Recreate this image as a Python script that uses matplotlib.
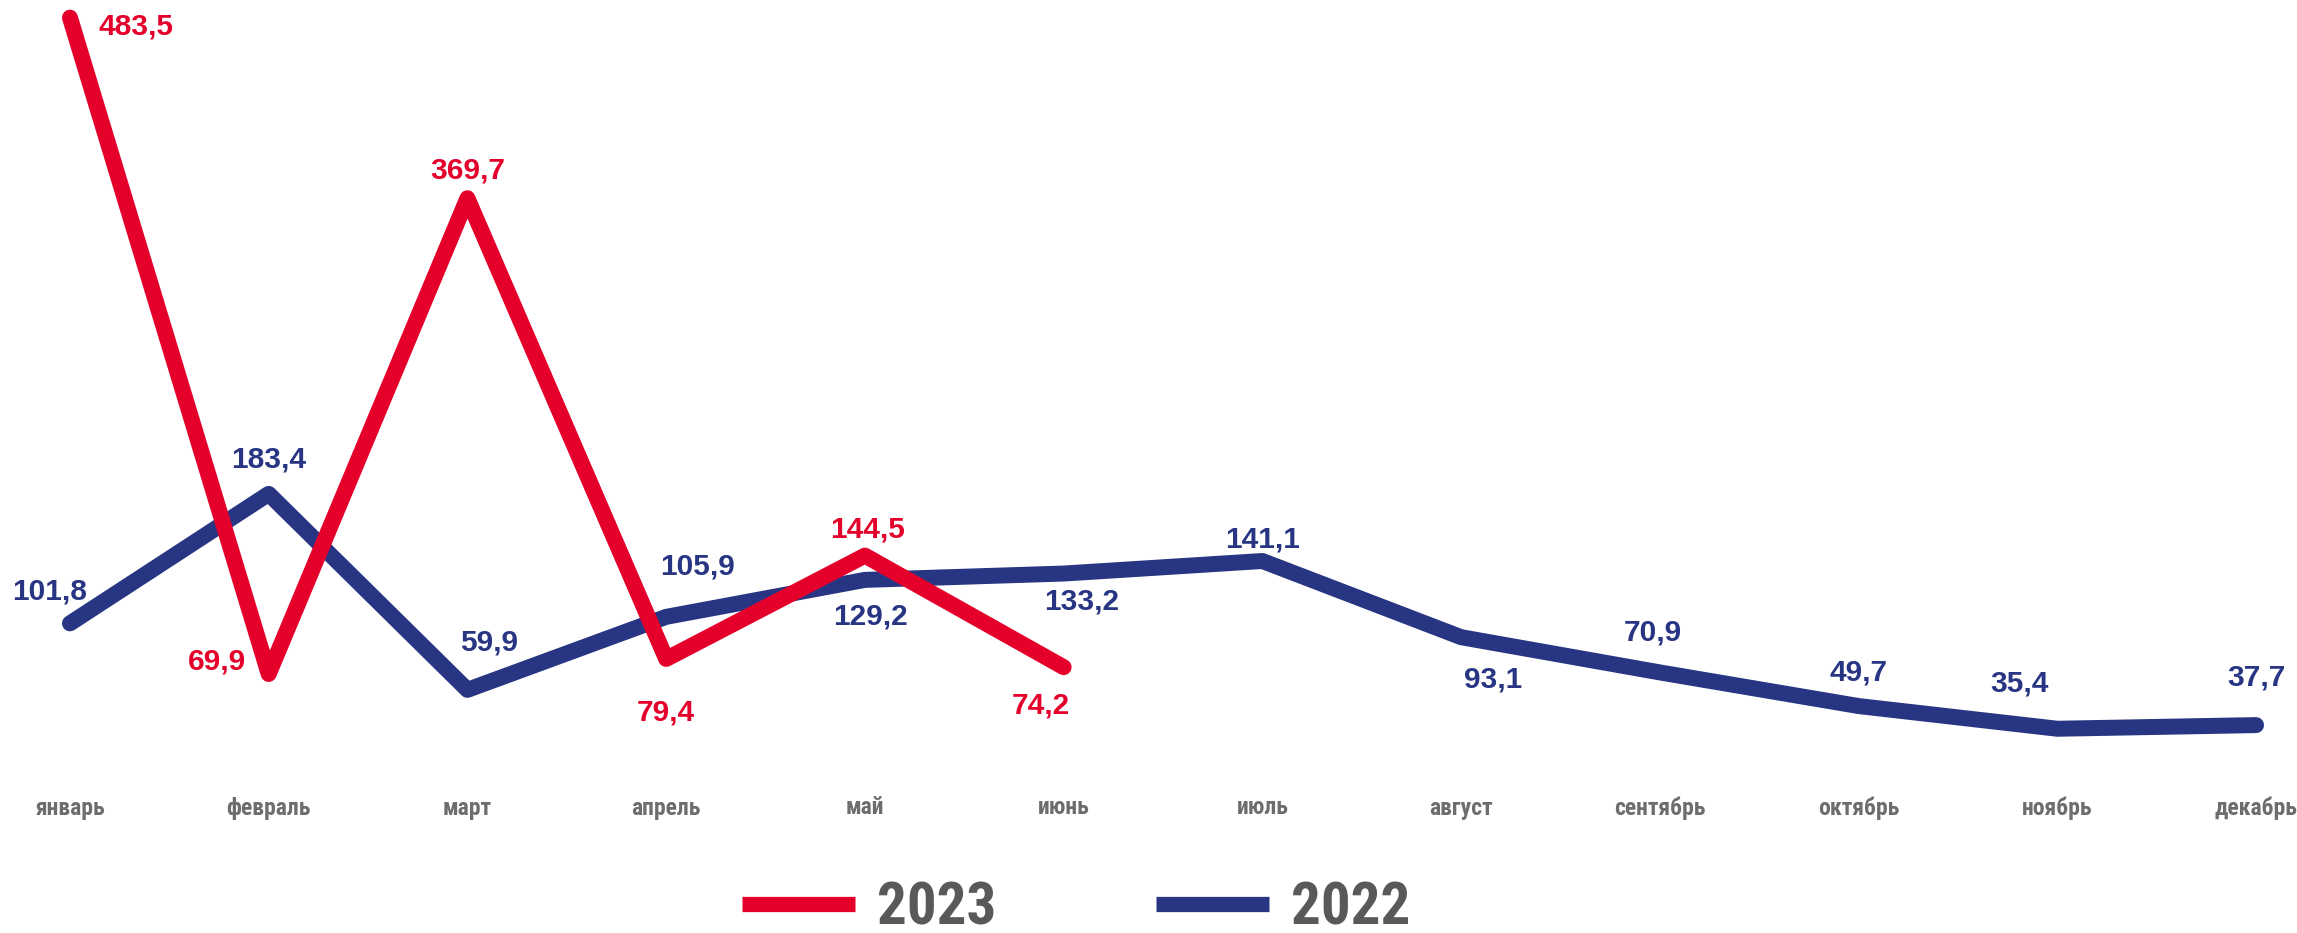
import matplotlib
matplotlib.use("Agg")
import matplotlib.pyplot as plt
from matplotlib.lines import Line2D
from matplotlib import font_manager

months = ["январь", "февраль", "март", "апрель", "май", "июнь",
          "июль", "август", "сентябрь", "октябрь", "ноябрь", "декабрь"]
vals_2023 = [483.5, 69.9, 369.7, 79.4, 144.5, 74.2]
vals_2022 = [101.8, 183.4, 59.9, 105.9, 129.2, 133.2, 141.1, 93.1, 70.9, 49.7, 35.4, 37.7]
labels_2023 = ["483,5", "69,9", "369,7", "79,4", "144,5", "74,2"]
labels_2022 = ["101,8", "183,4", "59,9", "105,9", "129,2", "133,2",
               "141,1", "93,1", "70,9", "49,7", "35,4", "37,7"]

# label offsets in pixels (dx, dy upward)
off_2023 = [(66, -9), (-52, 13), (0, 28), (0, -54), (3, 26), (-23, -38)]
off_2022 = [(-20, 32), (0, 34), (22, 47), (31, 50), (6, -37), (18, -28),
            (0, 22), (32, -42), (-7, 40), (0, 34), (-38, 45), (0, 48)]

RED = "#E4002B"
BLUE = "#283583"

names = {f.name for f in font_manager.fontManager.ttflist}
narrow = "Liberation Sans"
for cand in ["Liberation Sans Narrow", "Arial Narrow", "Roboto Condensed",
             "DejaVu Sans Condensed", "Open Sans Condensed", "Noto Sans Condensed"]:
    if cand in names:
        narrow = cand
        break
condensed_files = [f for f in font_manager.fontManager.ttflist
                   if f.stretch in ("condensed", "semi-condensed", 500 - 125) and f.weight in ("bold", 700)]
narrow_prop = {"family": [narrow, "DejaVu Sans"], "weight": "bold"}
if narrow == "Liberation Sans" and condensed_files:
    narrow_prop = {"family": [condensed_files[0].name, "DejaVu Sans"], "weight": "bold",
                   "stretch": "condensed"}

DPI = 100
fig = plt.figure(figsize=(22.97, 9.33), dpi=DPI)
ax = fig.add_axes([0, 0, 1, 1])
ax.set_xlim(-0.352, 11.206)
ax.set_ylim(-93.3, 494.6)
ax.axis("off")

lw = 11.5
x22 = list(range(len(vals_2022)))
x23 = list(range(len(vals_2023)))
ax.plot(x22, vals_2022, color=BLUE, lw=lw, solid_capstyle="round", solid_joinstyle="round", zorder=2)
ax.plot(x23, vals_2023, color=RED, lw=lw, solid_capstyle="round", solid_joinstyle="round", zorder=3)

pt = 72.0 / DPI
for x, v, t, (dx, dy) in zip(x22, vals_2022, labels_2022, off_2022):
    ax.annotate(t, (x, v), xytext=(dx * pt, dy * pt), textcoords="offset points",
                ha="center", va="center", color=BLUE, fontsize=21.5, fontweight="bold",
                family=["Liberation Sans", "DejaVu Sans"], zorder=4)
for x, v, t, (dx, dy) in zip(x23, vals_2023, labels_2023, off_2023):
    ax.annotate(t, (x, v), xytext=(dx * pt, dy * pt), textcoords="offset points",
                ha="center", va="center", color=RED, fontsize=21.5, fontweight="bold",
                family=["Liberation Sans", "DejaVu Sans"], zorder=4)

is_narrow = narrow != "Liberation Sans" or "stretch" in narrow_prop
month_size = 17 if is_narrow else 13.5
legend_size = 42.5 if is_narrow else 37

trans = ax.get_xaxis_transform()
for i, m in enumerate(months):
    ax.text(i, 1 - 808 / 933, m, transform=trans, ha="center", va="center",
            fontsize=month_size, color="#6d6d6d", **narrow_prop)

handles = [Line2D([], [], color=RED, lw=11, solid_capstyle="butt"),
           Line2D([], [], color=BLUE, lw=11, solid_capstyle="butt")]
lp = dict(narrow_prop)
lp["size"] = legend_size
em = legend_size / pt  # pixels
fig.legend(handles, ["2023", "2022"], loc="center", bbox_to_anchor=(0.4686, 0.026),
           ncol=2, frameon=False, handlelength=113 / em, handletextpad=22 / em,
           columnspacing=160 / em, labelcolor="#595959", prop=lp,
           borderpad=0.1)

fig.savefig("out.png", dpi=DPI)
